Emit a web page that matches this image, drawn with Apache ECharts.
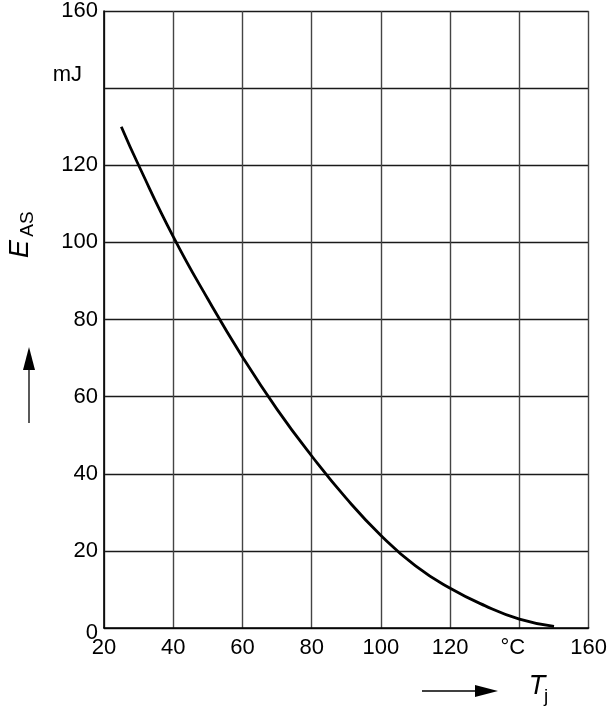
<!DOCTYPE html>
<html>
<head>
<meta charset="utf-8">
<script src="https://cdn.jsdelivr.net/npm/echarts@6/dist/echarts.min.js"></script>
<style>
html,body{margin:0;padding:0;background:#fff;}
#chart{width:610px;height:709px;}
</style>
</head>
<body>
<div id="chart"></div>
<script>
// Junction temperature Tj (°C)
const tempC = [25, 30, 40, 50, 60, 70, 80, 90, 100, 110, 120, 130, 140, 150];
// Avalanche energy EAS (mJ)
const energyMJ = [130, 120, 101.5, 85.3, 70.3, 56.7, 44.6, 33.6, 24.0, 16.1, 10.3, 5.8, 2.3, 0.4];
// Axis ticks
const xTicks = [20, 40, 60, 80, 100, 120, 140, 160];
const yTicks = [0, 20, 40, 60, 80, 100, 120, 140, 160];
const xUnitTick = 140, xUnitLabel = '°C';
const yUnitTick = 140, yUnitLabel = 'mJ';

const FONT = '"Liberation Sans", Arial, sans-serif';
const FS = 22;
const chart = echarts.init(document.getElementById('chart'), null, {renderer: 'canvas'});

const option = {
  backgroundColor: '#fff',
  animation: false,
  grid: {left: 104, right: 19, top: 11, bottom: 81},
  xAxis: {
    type: 'value',
    min: xTicks[0], max: xTicks[xTicks.length - 1], interval: xTicks[1] - xTicks[0],
    axisLine: {show: true, lineStyle: {color: '#000', width: 1.6}},
    axisTick: {show: false},
    splitLine: {show: true, lineStyle: {color: '#444', width: 1.4}},
    axisLabel: {
      margin: 9, color: '#000', fontFamily: FONT, fontSize: FS,
      formatter: v => v === xUnitTick ? '{u|' + xUnitLabel + '}' : String(v),
      rich: {u: {fontFamily: FONT, fontSize: FS, color: '#000', padding: [0, 13, 0, 0]}}
    }
  },
  yAxis: {
    type: 'value',
    min: yTicks[0], max: yTicks[yTicks.length - 1], interval: yTicks[1] - yTicks[0],
    axisLine: {show: true, lineStyle: {color: '#000', width: 1.6}},
    axisTick: {show: false},
    splitLine: {show: true, lineStyle: {color: '#1a1a1a', width: 1.4}},
    axisLabel: {
      margin: 6, color: '#000', fontFamily: FONT, fontSize: FS,
      formatter: v => v === yUnitTick ? '{u|' + yUnitLabel + '}' : (v === 0 ? '{z|0}' : String(v)),
      rich: {
        u: {fontFamily: FONT, fontSize: FS, color: '#000', padding: [0, 16, 27, 0]},
        z: {fontFamily: FONT, fontSize: FS, color: '#000', padding: [9, 0, 0, 0]}
      }
    }
  },
  series: [{
    type: 'line',
    data: tempC.map((t, i) => [t, energyMJ[i]]),
    smooth: 0.5,
    showSymbol: false,
    lineStyle: {color: '#000', width: 2.8},
    z: 5
  }],
  graphic: [
    // Y axis title E_AS (rotated)
    {type: 'text', x: 20, y: 249, rotation: Math.PI / 2,
     style: {text: 'E', font: 'italic 27px ' + FONT, fill: '#000', textAlign: 'center', textVerticalAlign: 'middle'}},
    {type: 'text', x: 28, y: 224, rotation: Math.PI / 2,
     style: {text: 'AS', font: '19px ' + FONT, fill: '#000', textAlign: 'center', textVerticalAlign: 'middle'}},
    // up arrow
    {type: 'line', shape: {x1: 29, y1: 423, x2: 29, y2: 368}, style: {stroke: '#000', lineWidth: 1.3}},
    {type: 'polygon', shape: {points: [[23, 370], [35, 370], [29, 347]]}, style: {fill: '#000'}},
    // X axis title T_j
    {type: 'text', x: 537, y: 686,
     style: {text: 'T', font: 'italic 27px ' + FONT, fill: '#000', textAlign: 'center', textVerticalAlign: 'middle'}},
    {type: 'text', x: 546, y: 697,
     style: {text: 'j', font: '19px ' + FONT, fill: '#000', textAlign: 'center', textVerticalAlign: 'middle'}},
    // right arrow
    {type: 'line', shape: {x1: 422, y1: 691, x2: 477, y2: 691}, style: {stroke: '#000', lineWidth: 1.3}},
    {type: 'polygon', shape: {points: [[475, 685], [475, 697], [498, 691]]}, style: {fill: '#000'}}
  ]
};
chart.setOption(option);
</script>
</body>
</html>
